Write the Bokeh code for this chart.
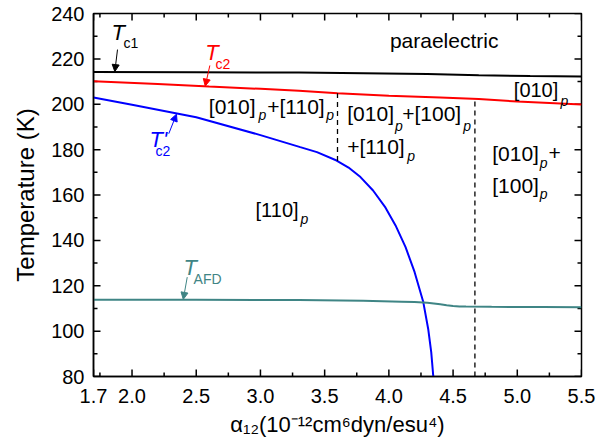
import numpy as np
from bokeh.plotting import figure
from bokeh.models import (Range1d, FixedTicker, PrintfTickFormatter,
                          Label, Arrow, NormalHead)
from bokeh.embed import file_html
from bokeh.resources import INLINE

FONT = "Liberation Sans"

# ---------------- data ----------------
alpha_tc1 = [1.7, 2.5, 3.3, 3.8, 4.3, 4.7, 5.1, 5.5]
tc1 = [214.2, 214.1, 214.0, 213.7, 213.3, 212.8, 212.4, 212.2]

alpha_tc2 = [1.7, 2.2, 2.6, 3.0, 3.3, 3.6, 4.0, 4.4, 4.7, 5.0, 5.5]
tc2 = [210.1, 208.9, 207.8, 206.8, 206.0, 204.8, 203.8, 203.0, 202.3, 201.2, 199.9]

alpha_tc2p = [1.7, 2.0, 2.5, 3.0, 3.31, 3.44, 3.593, 3.686, 3.779, 3.877, 3.974,
              4.052, 4.13, 4.2, 4.268, 4.307, 4.33, 4.346]
tc2p = [203.0, 199.8, 194.3, 186.4, 181.1, 178.9, 175.2, 172.1, 167.9, 162.0,
        154.4, 146.6, 137.0, 126.1, 112.8, 100.7, 90.6, 80.0]

alpha_afd = [1.7, 2.5, 3.3, 3.8, 4.1, 4.2, 4.3, 4.35, 4.4, 4.45, 4.5, 4.55,
             4.6, 4.8, 5.2, 5.5]
tafd = [113.8, 113.8, 113.7, 113.4, 113.0, 112.8, 112.5, 112.2, 111.8, 111.4,
        111.1, 110.9, 110.8, 110.7, 110.6, 110.5]

boundaries = [3.6, 4.67]

x_ticks = [1.7, 2.0, 2.5, 3.0, 3.5, 4.0, 4.5, 5.0, 5.5]
x_minor = [1.75, 2.25, 2.75, 3.25, 3.75, 4.25, 4.75, 5.25]
y_ticks = [80, 100, 120, 140, 160, 180, 200, 220, 240]
y_minor = [90, 110, 130, 150, 170, 190, 210, 230]

X_MIN, X_MAX = 1.7, 5.5
Y_MIN, Y_MAX = 80, 240

RED = "#ff0000"
BLUE = "#0000ff"
TEAL = "#3f8585"

# ---------------- figure ----------------
W, H = 609, 445
BL, BR, BT, BB = 93, 28, 13, 69
FRAME_W, FRAME_H = W - BL - BR, H - BT - BB

p = figure(width=W, height=H, x_range=Range1d(X_MIN, X_MAX),
           y_range=Range1d(Y_MIN, Y_MAX), output_backend="svg",
           toolbar_location=None, min_border_left=BL, min_border_right=BR,
           min_border_top=BT, min_border_bottom=BB)
p.xgrid.visible = False
p.ygrid.visible = False
p.outline_line_color = "black"
p.outline_line_width = 1.5
p.background_fill_color = "white"
p.border_fill_color = "white"


def style_axis(ax, ticks, minor, fmt):
    ax.ticker = FixedTicker(ticks=ticks, minor_ticks=minor)
    ax.formatter = PrintfTickFormatter(format=fmt)
    ax.major_tick_in = 0
    ax.major_tick_out = 0
    ax.minor_tick_in = 0
    ax.minor_tick_out = 0
    ax.axis_line_color = "black"
    ax.axis_line_width = 1.5
    ax.major_label_text_font = FONT
    ax.major_label_text_color = "black"
    ax.major_label_text_font_size = "20px"
    ax.axis_label_text_font = FONT
    ax.axis_label_text_font_style = "normal"
    ax.axis_label_text_color = "black"


style_axis(p.xaxis[0], x_ticks, x_minor, "%.1f")
p.xaxis[0].major_label_standoff = 12
p.xaxis[0].axis_label = "\u03b1\u2081\u2082(10\u207b\u00b9\u00b2cm\u2076dyn/esu\u2074)"
p.xaxis[0].axis_label_text_font_size = "22px"
p.xaxis[0].axis_label_standoff = 6

style_axis(p.yaxis[0], y_ticks, y_minor, "%d")
p.yaxis[0].major_label_standoff = 9
p.yaxis[0].axis_label = "Temperature (K)"
p.yaxis[0].axis_label_text_font_size = "24px"
p.yaxis[0].axis_label_standoff = 9

# inward ticks on all four sides (lengths in pixels, converted to data units)
xpp = (X_MAX - X_MIN) / FRAME_W
ypp = (Y_MAX - Y_MIN) / FRAME_H
MAJ, MIN_ = 7, 4
TICK_COLOR = "black"
TICK_W = 1.5
for ticks, ln in ((x_ticks, MAJ), (x_minor, MIN_)):
    p.segment(x0=ticks, y0=[Y_MIN] * len(ticks), x1=ticks,
              y1=[Y_MIN + ln * ypp] * len(ticks), line_color=TICK_COLOR, line_width=TICK_W)
    p.segment(x0=ticks, y0=[Y_MAX] * len(ticks), x1=ticks,
              y1=[Y_MAX - ln * ypp] * len(ticks), line_color=TICK_COLOR, line_width=TICK_W)
for ticks, ln in ((y_ticks, MAJ), (y_minor, MIN_)):
    p.segment(x0=[X_MIN] * len(ticks), y0=ticks, x1=[X_MIN + ln * xpp] * len(ticks),
              y1=ticks, line_color=TICK_COLOR, line_width=TICK_W)
    p.segment(x0=[X_MAX] * len(ticks), y0=ticks, x1=[X_MAX - ln * xpp] * len(ticks),
              y1=ticks, line_color=TICK_COLOR, line_width=TICK_W)

# ---------------- curves ----------------
p.line(alpha_tc1, tc1, line_color="black", line_width=2)
p.line(alpha_tc2, tc2, line_color=RED, line_width=2)
p.line(alpha_tc2p, tc2p, line_color=BLUE, line_width=2)
p.line(alpha_afd, tafd, line_color=TEAL, line_width=2)

b1, b2 = boundaries
top1 = float(np.interp(b1, alpha_tc2, tc2))
bot1 = float(np.interp(b1, alpha_tc2p, tc2p))
top2 = float(np.interp(b2, alpha_tc2, tc2))
p.segment(x0=[b1, b2], y0=[bot1, Y_MIN], x1=[b1, b2], y1=[top1, top2],
          line_color="black", line_width=1.3, line_dash="5 4")

# ---------------- text ----------------
MID = 0.3465  # (ascent - descent) / 2 of Liberation Sans, in em


def lab(x, y, text, size, color="black", style="normal"):
    """Text whose baseline sits at data (x, y)."""
    p.add_layout(Label(x=x, y=y + MID * size * ypp, text=text, text_font=FONT,
                       text_font_size=f"{size}px", text_color=color,
                       text_font_style=style, text_align="left",
                       text_baseline="middle"))


def arrow(x0, y0, x1, y1, color):
    p.add_layout(Arrow(end=NormalHead(size=7, fill_color=color, line_color=color,
                                      line_width=1),
                       x_start=x0, y_start=y0, x_end=x1, y_end=y1,
                       line_color=color, line_width=1))


lab(4.008, 225.1, "paraelectric", 21)

# region labels
lab(2.598, 195.8, "[010]", 21); lab(2.985, 193.3, "p", 14, style="italic")
lab(3.053, 195.8, "+[110]", 21); lab(3.512, 193.3, "p", 14, style="italic")

lab(3.676, 192.5, "[010]", 21); lab(4.047, 188.2, "p", 14, style="italic")
lab(4.104, 192.5, "+[100]", 21); lab(4.579, 188.2, "p", 14, style="italic")
lab(3.676, 178.1, "+[110]", 21); lab(4.143, 175.0, "p", 14, style="italic")

lab(4.805, 175.2, "[010]", 21); lab(5.174, 172.1, "p", 14, style="italic")
lab(5.244, 175.2, "+", 21)
lab(4.805, 161.2, "[100]", 21); lab(5.174, 158.1, "p", 14, style="italic")

lab(4.973, 203.1, "[010]", 20); lab(5.337, 199.3, "p", 14, style="italic")
lab(2.962, 150.2, "[110]", 20); lab(3.312, 147.4, "p", 14, style="italic")

# transition temperature labels
lab(1.840, 228.1, "T", 22, style="italic"); lab(1.934, 225.0, "c1", 14)
arrow(1.887, 224.1, 1.866, 214.4, "black")

lab(2.570, 219.3, "T", 22, RED, "italic"); lab(2.650, 215.7, "c2", 14, RED)
arrow(2.606, 217.1, 2.570, 208.0, RED)

lab(2.136, 180.9, "T'", 22, BLUE, "italic"); lab(2.183, 177.4, "c2", 14, BLUE)
arrow(2.286, 187.0, 2.346, 195.6, BLUE)

lab(2.401, 124.5, "T", 22, TEAL, "italic"); lab(2.479, 121.0, "AFD", 14, TEAL)
arrow(2.430, 123.8, 2.399, 114.0, TEAL)

open("out.html", "w").write(file_html(p, INLINE))
